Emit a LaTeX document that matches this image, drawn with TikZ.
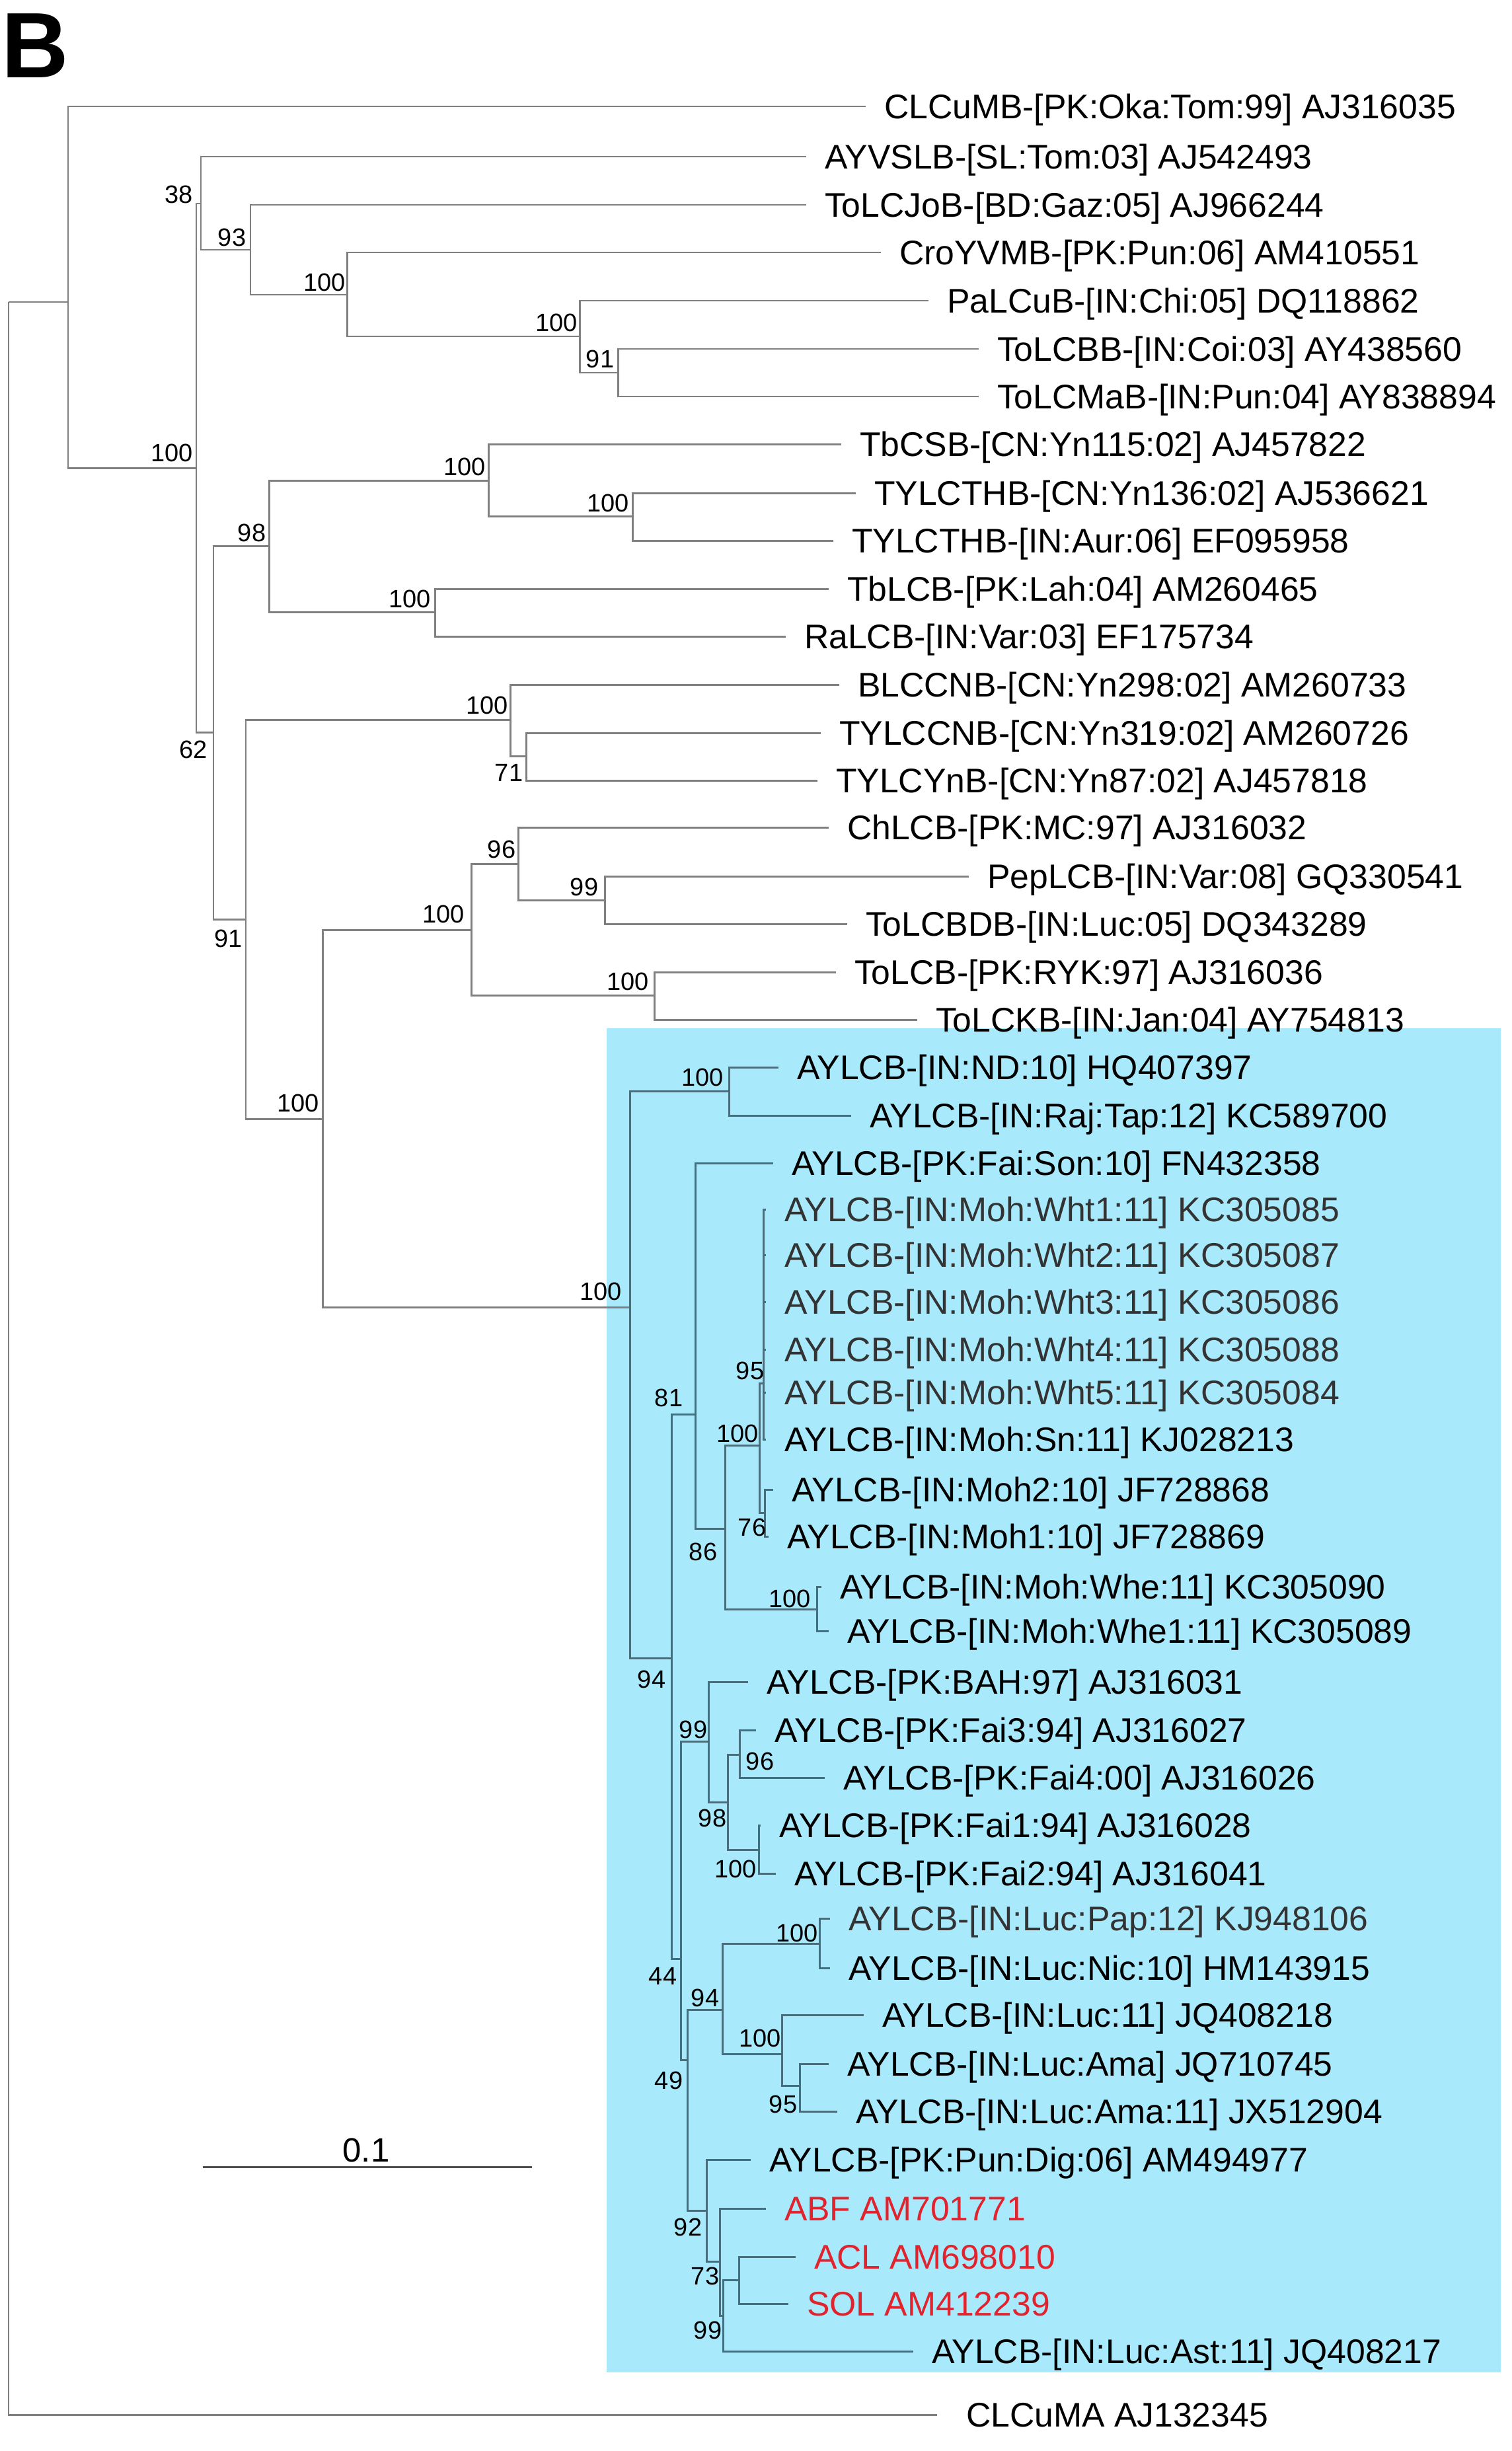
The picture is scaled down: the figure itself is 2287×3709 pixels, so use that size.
\documentclass[tikz,border=0pt]{standalone}
\usepackage{fontspec}
\setmainfont{Liberation Sans}
\definecolor{branch}{RGB}{128,128,128}
\definecolor{branchin}{RGB}{70,110,125}
\definecolor{cladebg}{RGB}{168,234,252}
\definecolor{redtxt}{RGB}{225,35,45}
\begin{document}
\begin{tikzpicture}[x=0.01cm, y=-0.01cm,
    br/.style={draw=branch, line width=0.85pt},
    bri/.style={draw=branchin, line width=0.85pt},
    leaf/.style={anchor=west, inner xsep=0.28cm, inner ysep=0pt, outer sep=0pt,
      text height=0.42cm, text depth=0.05cm, font=\fontsize{14.7}{16}\selectfont},
    boot/.style={inner sep=0pt, font=\fontsize{10.8}{12}\selectfont}]
\useasboundingbox (0,0) rectangle (2287,3709);
\fill[cladebg] (918,1556) rectangle (2271,3590);
\node[anchor=base west, inner sep=0pt, font=\fontsize{40}{42}\bfseries\selectfont] (panel) at (2,118) {B};

% internal nodes
\coordinate (root) at (13,457);
\coordinate (nA) at (103,457);
\coordinate (n100a) at (297,708);
\coordinate (n38) at (304,308);
\coordinate (n93) at (379,378);
\coordinate (n100b) at (525,446);
\coordinate (n100c) at (877,509);
\coordinate (n91a) at (935,564);
\coordinate (n62) at (323,1108);
\coordinate (n98a) at (407,826);
\coordinate (n100d) at (739,727);
\coordinate (n100e) at (957,781);
\coordinate (n100f) at (658,926);
\coordinate (n91b) at (372,1391);
\coordinate (n100g) at (772,1089);
\coordinate (n71) at (796,1144);
\coordinate (n100h) at (488,1693);
\coordinate (n100i) at (713,1407);
\coordinate (n96a) at (784,1307);
\coordinate (n99a) at (915,1362);
\coordinate (n100j) at (990,1506);
\coordinate (nAY) at (953,1978);
\coordinate (n100k) at (1103,1651);
\coordinate (n94a) at (1016,2509);
\coordinate (n81) at (1052,2140);
\coordinate (n86) at (1097,2313);
\coordinate (n100l) at (1149,2187);
\coordinate (n95a) at (1155,2093);
\coordinate (n76) at (1157,2289);
\coordinate (n100m) at (1236,2435);
\coordinate (n44) at (1030,2964);
\coordinate (n99b) at (1072,2635);
\coordinate (n98b) at (1101,2727);
\coordinate (n96b) at (1119,2655);
\coordinate (n100n) at (1148,2799);
\coordinate (n49) at (1040,3117);
\coordinate (n94b) at (1093,3041);
\coordinate (n100o) at (1240,2941);
\coordinate (n100p) at (1183,3108);
\coordinate (n95b) at (1210,3156);
\coordinate (n92) at (1069,3345);
\coordinate (n73) at (1089,3422);
\coordinate (n99c) at (1094,3504);
\coordinate (nSOL) at (1118,3450);

% leaves
\node[leaf] (AJ316035) at (1310,161) {CLCuMB-[PK:Oka:Tom:99] AJ316035};
\node[leaf] (AJ542493) at (1220,237) {AYVSLB-[SL:Tom:03] AJ542493};
\node[leaf] (AJ966244) at (1220,310) {ToLCJoB-[BD:Gaz:05] AJ966244};
\node[leaf] (AM410551) at (1333,382) {CroYVMB-[PK:Pun:06] AM410551};
\node[leaf] (DQ118862) at (1405,455) {PaLCuB-[IN:Chi:05] DQ118862};
\node[leaf] (AY438560) at (1481,528) {ToLCBB-[IN:Coi:03] AY438560};
\node[leaf] (AY838894) at (1481,600) {ToLCMaB-[IN:Pun:04] AY838894};
\node[leaf] (AJ457822) at (1273,672) {TbCSB-[CN:Yn115:02] AJ457822};
\node[leaf] (AJ536621) at (1295,746) {TYLCTHB-[CN:Yn136:02] AJ536621};
\node[leaf] (EF095958) at (1261,818) {TYLCTHB-[IN:Aur:06] EF095958};
\node[leaf] (AM260465) at (1254,891) {TbLCB-[PK:Lah:04] AM260465};
\node[leaf] (EF175734) at (1189,963) {RaLCB-[IN:Var:03] EF175734};
\node[leaf] (AM260733) at (1270,1036) {BLCCNB-[CN:Yn298:02] AM260733};
\node[leaf] (AM260726) at (1242,1109) {TYLCCNB-[CN:Yn319:02] AM260726};
\node[leaf] (AJ457818) at (1237,1181) {TYLCYnB-[CN:Yn87:02] AJ457818};
\node[leaf] (AJ316032) at (1254,1252) {ChLCB-[PK:MC:97] AJ316032};
\node[leaf] (GQ330541) at (1466,1326) {PepLCB-[IN:Var:08] GQ330541};
\node[leaf] (DQ343289) at (1282,1398) {ToLCBDB-[IN:Luc:05] DQ343289};
\node[leaf] (AJ316036) at (1265,1471) {ToLCB-[PK:RYK:97] AJ316036};
\node[leaf] (AY754813) at (1388,1543) {ToLCKB-[IN:Jan:04] AY754813};
\node[leaf] (HQ407397) at (1178,1615) {AYLCB-[IN:ND:10] HQ407397};
\node[leaf] (KC589700) at (1288,1688) {AYLCB-[IN:Raj:Tap:12] KC589700};
\node[leaf] (FN432358) at (1170,1760) {AYLCB-[PK:Fai:Son:10] FN432358};
\node[leaf, text=black!80] (KC305085) at (1159,1830) {AYLCB-[IN:Moh:Wht1:11] KC305085};
\node[leaf, text=black!80] (KC305087) at (1159,1899) {AYLCB-[IN:Moh:Wht2:11] KC305087};
\node[leaf, text=black!80] (KC305086) at (1159,1970) {AYLCB-[IN:Moh:Wht3:11] KC305086};
\node[leaf, text=black!80] (KC305088) at (1159,2042) {AYLCB-[IN:Moh:Wht4:11] KC305088};
\node[leaf, text=black!80] (KC305084) at (1159,2107) {AYLCB-[IN:Moh:Wht5:11] KC305084};
\node[leaf] (KJ028213) at (1159,2178) {AYLCB-[IN:Moh:Sn:11] KJ028213};
\node[leaf] (JF728868) at (1170,2254) {AYLCB-[IN:Moh2:10] JF728868};
\node[leaf] (JF728869) at (1163,2325) {AYLCB-[IN:Moh1:10] JF728869};
\node[leaf] (KC305090) at (1243,2401) {AYLCB-[IN:Moh:Whe:11] KC305090};
\node[leaf] (KC305089) at (1254,2468) {AYLCB-[IN:Moh:Whe1:11] KC305089};
\node[leaf] (AJ316031) at (1132,2545) {AYLCB-[PK:BAH:97] AJ316031};
\node[leaf] (AJ316027) at (1144,2618) {AYLCB-[PK:Fai3:94] AJ316027};
\node[leaf] (AJ316026) at (1248,2690) {AYLCB-[PK:Fai4:00] AJ316026};
\node[leaf] (AJ316028) at (1151,2762) {AYLCB-[PK:Fai1:94] AJ316028};
\node[leaf] (AJ316041) at (1174,2835) {AYLCB-[PK:Fai2:94] AJ316041};
\node[leaf, text=black!80] (KJ948106) at (1256,2903) {AYLCB-[IN:Luc:Pap:12] KJ948106};
\node[leaf] (HM143915) at (1256,2978) {AYLCB-[IN:Luc:Nic:10] HM143915};
\node[leaf] (JQ408218) at (1307,3049) {AYLCB-[IN:Luc:11] JQ408218};
\node[leaf] (JQ710745) at (1254,3123) {AYLCB-[IN:Luc:Ama] JQ710745};
\node[leaf] (JX512904) at (1267,3195) {AYLCB-[IN:Luc:Ama:11] JX512904};
\node[leaf] (AM494977) at (1136,3268) {AYLCB-[PK:Pun:Dig:06] AM494977};
\node[leaf, text=redtxt] (AM701771) at (1159,3342) {ABF AM701771};
\node[leaf, text=redtxt] (AM698010) at (1204,3415) {ACL AM698010};
\node[leaf, text=redtxt] (AM412239) at (1193,3486) {SOL AM412239};
\node[leaf] (JQ408217) at (1382,3558) {AYLCB-[IN:Luc:Ast:11] JQ408217};
\node[leaf, inner xsep=0.44cm] (AJ132345) at (1418,3654) {CLCuMA AJ132345};

% branches
\draw[br] (root) |- (nA);
\draw[br] (root) |- (AJ132345.west);
\draw[br] (nA) |- (AJ316035.west);
\draw[br] (nA) |- (n100a);
\draw[br] (n100a) |- (n38);
\draw[br] (n100a) |- (n62);
\draw[br] (n38) |- (AJ542493.west);
\draw[br] (n38) |- (n93);
\draw[br] (n93) |- (AJ966244.west);
\draw[br] (n93) |- (n100b);
\draw[br] (n100b) |- (AM410551.west);
\draw[br] (n100b) |- (n100c);
\draw[br] (n100c) |- (DQ118862.west);
\draw[br] (n100c) |- (n91a);
\draw[br] (n91a) |- (AY438560.west);
\draw[br] (n91a) |- (AY838894.west);
\draw[br] (n62) |- (n98a);
\draw[br] (n62) |- (n91b);
\draw[br] (n98a) |- (n100d);
\draw[br] (n98a) |- (n100f);
\draw[br] (n100d) |- (AJ457822.west);
\draw[br] (n100d) |- (n100e);
\draw[br] (n100e) |- (AJ536621.west);
\draw[br] (n100e) |- (EF095958.west);
\draw[br] (n100f) |- (AM260465.west);
\draw[br] (n100f) |- (EF175734.west);
\draw[br] (n91b) |- (n100g);
\draw[br] (n91b) |- (n100h);
\draw[br] (n100g) |- (AM260733.west);
\draw[br] (n100g) |- (n71);
\draw[br] (n71) |- (AM260726.west);
\draw[br] (n71) |- (AJ457818.west);
\draw[br] (n100h) |- (n100i);
\draw[br] (n100h) |- (nAY);
\draw[br] (n100i) |- (n96a);
\draw[br] (n100i) |- (n100j);
\draw[br] (n96a) |- (AJ316032.west);
\draw[br] (n96a) |- (n99a);
\draw[br] (n99a) |- (GQ330541.west);
\draw[br] (n99a) |- (DQ343289.west);
\draw[br] (n100j) |- (AJ316036.west);
\draw[br] (n100j) |- (AY754813.west);
\draw[bri] (nAY) |- (n100k);
\draw[bri] (nAY) |- (n94a);
\draw[bri] (n100k) |- (HQ407397.west);
\draw[bri] (n100k) |- (KC589700.west);
\draw[bri] (n94a) |- (n81);
\draw[bri] (n94a) |- (n44);
\draw[bri] (n81) |- (FN432358.west);
\draw[bri] (n81) |- (n86);
\draw[bri] (n86) |- (n100l);
\draw[bri] (n86) |- (n100m);
\draw[bri] (n100l) |- (n95a);
\draw[bri] (n100l) |- (n76);
\draw[bri] (n95a) |- (KC305085.west);
\draw[bri] (n95a) |- (KC305087.west);
\draw[bri] (n95a) |- (KC305086.west);
\draw[bri] (n95a) |- (KC305088.west);
\draw[bri] (n95a) |- (KC305084.west);
\draw[bri] (n95a) |- (KJ028213.west);
\draw[bri] (n76) |- (JF728868.west);
\draw[bri] (n76) |- (JF728869.west);
\draw[bri] (n100m) |- (KC305090.west);
\draw[bri] (n100m) |- (KC305089.west);
\draw[bri] (n44) |- (n99b);
\draw[bri] (n44) |- (n49);
\draw[bri] (n99b) |- (AJ316031.west);
\draw[bri] (n99b) |- (n98b);
\draw[bri] (n98b) |- (n96b);
\draw[bri] (n98b) |- (n100n);
\draw[bri] (n96b) |- (AJ316027.west);
\draw[bri] (n96b) |- (AJ316026.west);
\draw[bri] (n100n) |- (AJ316028.west);
\draw[bri] (n100n) |- (AJ316041.west);
\draw[bri] (n49) |- (n94b);
\draw[bri] (n49) |- (n92);
\draw[bri] (n94b) |- (n100o);
\draw[bri] (n94b) |- (n100p);
\draw[bri] (n100o) |- (KJ948106.west);
\draw[bri] (n100o) |- (HM143915.west);
\draw[bri] (n100p) |- (JQ408218.west);
\draw[bri] (n100p) |- (n95b);
\draw[bri] (n95b) |- (JQ710745.west);
\draw[bri] (n95b) |- (JX512904.west);
\draw[bri] (n92) |- (AM494977.west);
\draw[bri] (n92) |- (n73);
\draw[bri] (n73) |- (AM701771.west);
\draw[bri] (n73) |- (n99c);
\draw[bri] (n99c) |- (nSOL);
\draw[bri] (n99c) |- (JQ408217.west);
\draw[bri] (nSOL) |- (AM698010.west);
\draw[bri] (nSOL) |- (AM412239.west);

% bootstrap values
\node[boot] (b100a) at (260,685) {100};
\node[boot] (b38) at (271,294) {38};
\node[boot] (b93) at (351,359) {93};
\node[boot] (b100b) at (491,427) {100};
\node[boot] (b100c) at (842,488) {100};
\node[boot] (b91a) at (908,543) {91};
\node[boot] (b62) at (293,1134) {62};
\node[boot] (b98a) at (381,806) {98};
\node[boot] (b100d) at (703,706) {100};
\node[boot] (b100e) at (920,761) {100};
\node[boot] (b100f) at (620,906) {100};
\node[boot] (b91b) at (346,1420) {91};
\node[boot] (b100g) at (737,1067) {100};
\node[boot] (b71) at (770,1169) {71};
\node[boot] (b100h) at (451,1669) {100};
\node[boot] (b100i) at (671,1383) {100};
\node[boot] (b96a) at (759,1285) {96};
\node[boot] (b99a) at (884,1342) {99};
\node[boot] (b100j) at (950,1485) {100};
\node[boot] (bAY) at (909,1954) {100};
\node[boot] (b100k) at (1063,1630) {100};
\node[boot] (b94a) at (986,2541) {94};
\node[boot] (b81) at (1012,2115) {81};
\node[boot] (b86) at (1064,2348) {86};
\node[boot] (b100l) at (1116,2169) {100};
\node[boot] (b95a) at (1135,2074) {95};
\node[boot] (b76) at (1138,2311) {76};
\node[boot] (b100m) at (1195,2419) {100};
\node[boot] (b44) at (1003,2990) {44};
\node[boot] (b99b) at (1049,2617) {99};
\node[boot] (b98b) at (1078,2751) {98};
\node[boot] (b96b) at (1150,2665) {96};
\node[boot] (b100n) at (1113,2828) {100};
\node[boot] (b49) at (1012,3148) {49};
\node[boot] (b94b) at (1067,3023) {94};
\node[boot] (b100o) at (1206,2925) {100};
\node[boot] (b100p) at (1150,3084) {100};
\node[boot] (b95b) at (1185,3184) {95};
\node[boot] (b92) at (1041,3370) {92};
\node[boot] (b73) at (1067,3444) {73};
\node[boot] (b99c) at (1071,3526) {99};

% scale bar
\coordinate (sbL) at (307,3279);
\coordinate (sbR) at (805,3279);
\draw[br, draw=black!70] (sbL) -- (sbR);
\node[anchor=base, inner sep=0pt, font=\fontsize{14.5}{16}\selectfont] (sbT) at (554,3271) {0.1};
\end{tikzpicture}
\end{document}
